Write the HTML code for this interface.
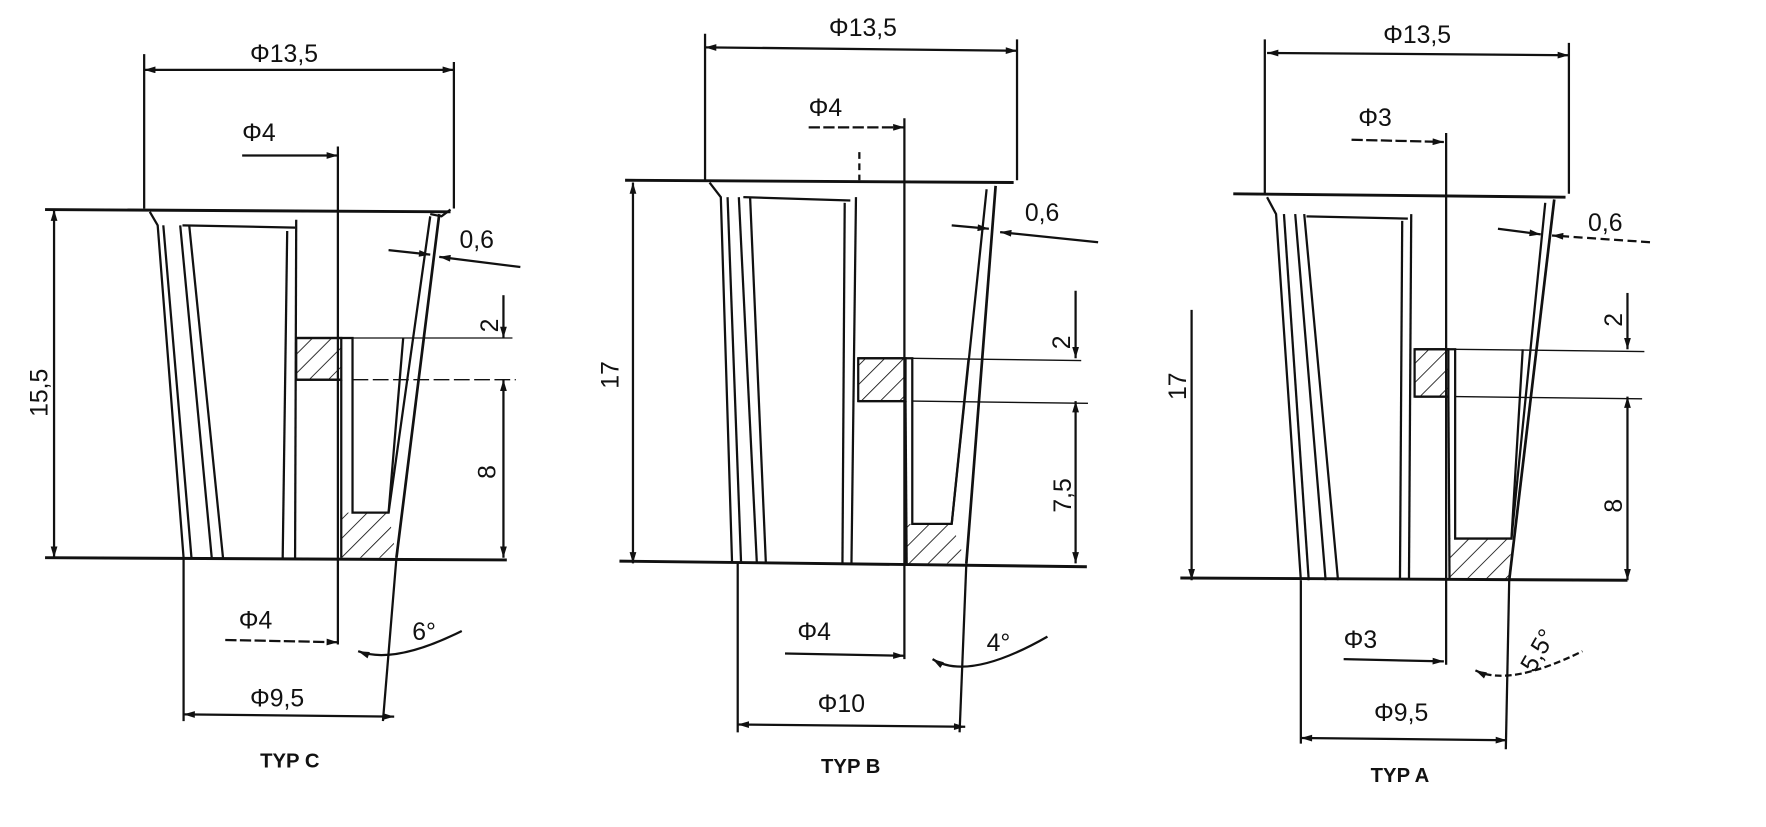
<!DOCTYPE html>
<html><head><meta charset="utf-8"><style>
html,body{margin:0;padding:0;background:#fff;width:1766px;height:827px;overflow:hidden}
svg{display:block}
text{font-family:"Liberation Sans",sans-serif;fill:#111}
.t{font-size:22px}
.b{font-size:18px;font-weight:bold}
</style></head><body>
<svg width="1766" height="827" viewBox="0 0 1568 734" preserveAspectRatio="none" xmlns="http://www.w3.org/2000/svg">
<defs>
<marker id="a" viewBox="0 0 10 6" refX="10" refY="3" markerWidth="11" markerHeight="6" orient="auto-start-reverse" markerUnits="userSpaceOnUse"><path d="M0,0 L10,3 L0,6z" fill="#111"/></marker>
<pattern id="h" width="12" height="12" patternUnits="userSpaceOnUse" patternTransform="rotate(45)"><line x1="0" y1="0" x2="0" y2="12" stroke="#111" stroke-width="1.5"/></pattern>
</defs>
<g stroke="#111" stroke-width="2" fill="none">
<!-- TYP C -->
<line x1="128" y1="62" x2="403" y2="62" marker-start="url(#a)" marker-end="url(#a)"/>
<line x1="128" y1="48" x2="128" y2="185"/><line x1="403" y1="55" x2="403" y2="185"/>
<line x1="40" y1="186" x2="400" y2="188" stroke-width="2.6"/>
<line x1="48" y1="186" x2="48" y2="495" marker-start="url(#a)" marker-end="url(#a)"/>
<line x1="40" y1="495" x2="450" y2="497" stroke-width="2.6"/>
<polyline points="133,188 140,200 163,495"/><line x1="145" y1="200" x2="170" y2="495"/>
<line x1="160" y1="200" x2="188" y2="495"/><line x1="168" y1="200" x2="198" y2="495"/>
<line x1="162" y1="200" x2="262" y2="202"/>
<line x1="255" y1="205" x2="251" y2="495"/><line x1="263" y1="195" x2="262" y2="495"/>
<rect x="263" y="300" width="40" height="37" fill="url(#h)"/>
<polyline points="263,300 313,300 313,455 345,455 358,300"/>
<line x1="263" y1="337" x2="303" y2="337"/>
<line x1="303" y1="337" x2="303" y2="495"/>
<polygon points="303,455 345,455 352,495 303,495" fill="url(#h)" stroke="none"/>
<line x1="390" y1="190" x2="352" y2="495" stroke-width="2.4"/>
<line x1="382" y1="192" x2="345" y2="455"/>
<polyline points="382,190 392,192 400,186"/>
<line x1="300" y1="130" x2="300" y2="572"/>
<line x1="215" y1="138" x2="300" y2="138" marker-end="url(#a)"/>
<line x1="313" y1="300" x2="455" y2="300" stroke-width="1.2"/><line x1="313" y1="337" x2="458" y2="337" stroke-width="1.2" stroke-dasharray="14 4"/>
<line x1="447" y1="262" x2="447" y2="300" marker-end="url(#a)"/><line x1="447" y1="337" x2="447" y2="495" marker-start="url(#a)" marker-end="url(#a)"/>
<line x1="345" y1="222" x2="382" y2="226" marker-end="url(#a)"/><line x1="462" y1="237" x2="390" y2="228" marker-end="url(#a)"/>
<line x1="163" y1="495" x2="163" y2="640"/><line x1="352" y1="495" x2="340" y2="640"/>
<line x1="200" y1="568" x2="300" y2="570" stroke-dasharray="10 3" marker-end="url(#a)"/>
<line x1="163" y1="634" x2="350" y2="636" marker-start="url(#a)" marker-end="url(#a)"/>
<path d="M318,578 Q350,590 410,560" marker-start="url(#a)"/>
<!-- TYP B -->
<line x1="626" y1="42" x2="903" y2="45" marker-start="url(#a)" marker-end="url(#a)"/>
<line x1="626" y1="30" x2="626" y2="160"/><line x1="903" y1="35" x2="903" y2="160"/>
<line x1="555" y1="160" x2="900" y2="162" stroke-width="2.6"/>
<line x1="562" y1="162" x2="562" y2="500" marker-start="url(#a)" marker-end="url(#a)"/>
<line x1="550" y1="498" x2="965" y2="503" stroke-width="2.6"/>
<polyline points="630,162 640,175 650,500"/><line x1="646" y1="175" x2="658" y2="500"/>
<line x1="656" y1="175" x2="672" y2="500"/><line x1="666" y1="175" x2="680" y2="500"/>
<line x1="660" y1="175" x2="755" y2="178"/>
<line x1="750" y1="180" x2="748" y2="500"/><line x1="760" y1="175" x2="756" y2="500"/>
<rect x="762" y="318" width="42" height="38" fill="url(#h)"/>
<polyline points="762,318 810,318 810,465 845,465 860,318"/>
<line x1="762" y1="356" x2="804" y2="356"/><line x1="804" y1="356" x2="805" y2="500"/>
<polygon points="805,465 845,465 858,500 805,500" fill="url(#h)" stroke="none"/>
<line x1="884" y1="165" x2="858" y2="500" stroke-width="2.4"/>
<line x1="876" y1="168" x2="845" y2="465"/>
<line x1="803" y1="105" x2="803" y2="585"/><line x1="763" y1="135" x2="763" y2="160" stroke-dasharray="6 4"/>
<line x1="718" y1="113" x2="803" y2="113" stroke-dasharray="10 3" marker-end="url(#a)"/>
<line x1="810" y1="318" x2="960" y2="320" stroke-width="1.2"/><line x1="810" y1="356" x2="966" y2="358" stroke-width="1.2"/>
<line x1="955" y1="258" x2="955" y2="318" marker-end="url(#a)"/><line x1="955" y1="356" x2="955" y2="500" marker-start="url(#a)" marker-end="url(#a)"/>
<line x1="845" y1="200" x2="878" y2="203" marker-end="url(#a)"/><line x1="975" y1="215" x2="888" y2="206" marker-end="url(#a)"/>
<line x1="655" y1="500" x2="655" y2="650"/><line x1="858" y1="500" x2="852" y2="650"/>
<line x1="697" y1="580" x2="803" y2="582" marker-end="url(#a)"/>
<line x1="655" y1="643" x2="857" y2="645" marker-start="url(#a)" marker-end="url(#a)"/>
<path d="M828,585 Q860,605 930,565" marker-start="url(#a)"/>
<!-- TYP A -->
<line x1="1125" y1="47" x2="1393" y2="49" marker-start="url(#a)" marker-end="url(#a)"/>
<line x1="1123" y1="35" x2="1123" y2="172"/><line x1="1393" y1="38" x2="1393" y2="172"/>
<line x1="1095" y1="172" x2="1390" y2="175" stroke-width="2.6"/>
<line x1="1058" y1="275" x2="1058" y2="515" marker-end="url(#a)"/>
<line x1="1048" y1="513" x2="1445" y2="515" stroke-width="2.6"/>
<polyline points="1125,175 1133,190 1155,515"/><line x1="1140" y1="190" x2="1162" y2="515"/>
<line x1="1150" y1="190" x2="1177" y2="515"/><line x1="1158" y1="190" x2="1188" y2="515"/>
<line x1="1160" y1="192" x2="1250" y2="194"/>
<line x1="1245" y1="196" x2="1243" y2="515"/><line x1="1253" y1="190" x2="1251" y2="515"/>
<rect x="1256" y="310" width="30" height="42" fill="url(#h)"/>
<polyline points="1256,310 1292,310 1292,478 1342,478 1352,310"/>
<line x1="1256" y1="352" x2="1286" y2="352"/><line x1="1286" y1="352" x2="1287" y2="515"/>
<polygon points="1287,478 1342,478 1340,515 1287,515" fill="url(#h)" stroke="none"/>
<line x1="1380" y1="177" x2="1340" y2="515" stroke-width="2.4"/>
<line x1="1372" y1="180" x2="1342" y2="478"/>
<line x1="1284" y1="118" x2="1284" y2="590"/>
<line x1="1200" y1="124" x2="1282" y2="126" stroke-dasharray="10 3" marker-end="url(#a)"/>
<line x1="1292" y1="310" x2="1460" y2="312" stroke-width="1.2"/><line x1="1292" y1="352" x2="1458" y2="354" stroke-width="1.2"/>
<line x1="1445" y1="260" x2="1445" y2="310" marker-end="url(#a)"/><line x1="1445" y1="352" x2="1445" y2="515" marker-start="url(#a)" marker-end="url(#a)"/>
<line x1="1330" y1="203" x2="1368" y2="208" marker-end="url(#a)"/><line x1="1465" y1="215" x2="1378" y2="209" marker-end="url(#a)" stroke-dasharray="8 4"/>
<line x1="1155" y1="515" x2="1155" y2="660"/><line x1="1340" y1="515" x2="1337" y2="665"/>
<line x1="1193" y1="585" x2="1282" y2="587" marker-end="url(#a)"/>
<line x1="1155" y1="655" x2="1338" y2="657" marker-start="url(#a)" marker-end="url(#a)"/>
<path d="M1310,595 Q1340,610 1405,578" marker-start="url(#a)" stroke-dasharray="6 3"/>
</g>
<g class="t">
<text x="222" y="55">Φ13,5</text><text x="215" y="125">Φ4</text><text x="408" y="220">0,6</text>
<text x="0" y="0" transform="translate(442,295) rotate(-90)">2</text>
<text x="0" y="0" transform="translate(440,425) rotate(-90)">8</text>
<text x="0" y="0" transform="translate(42,370) rotate(-90)">15,5</text>
<text x="212" y="558">Φ4</text><text x="222" y="627">Φ9,5</text><text x="366" y="568">6°</text>
<text x="736" y="32">Φ13,5</text><text x="718" y="103">Φ4</text><text x="910" y="196">0,6</text>
<text x="0" y="0" transform="translate(950,310) rotate(-90)">2</text>
<text x="0" y="0" transform="translate(951,455) rotate(-90)">7,5</text>
<text x="0" y="0" transform="translate(549,345) rotate(-90)">17</text>
<text x="708" y="568">Φ4</text><text x="726" y="632">Φ10</text><text x="876" y="578">4°</text>
<text x="1228" y="38">Φ13,5</text><text x="1206" y="112">Φ3</text><text x="1410" y="205">0,6</text>
<text x="0" y="0" transform="translate(1440,290) rotate(-90)">2</text>
<text x="0" y="0" transform="translate(1440,455) rotate(-90)">8</text>
<text x="0" y="0" transform="translate(1053,355) rotate(-90)">17</text>
<text x="1193" y="575">Φ3</text><text x="1220" y="640">Φ9,5</text>
<text x="0" y="0" transform="translate(1362,598) rotate(-60)">5,5°</text>
</g>
<text class="b" x="231" y="681">TYP C</text>
<text class="b" x="729" y="686">TYP B</text>
<text class="b" x="1217" y="694">TYP A</text>
</svg>
</body></html>
